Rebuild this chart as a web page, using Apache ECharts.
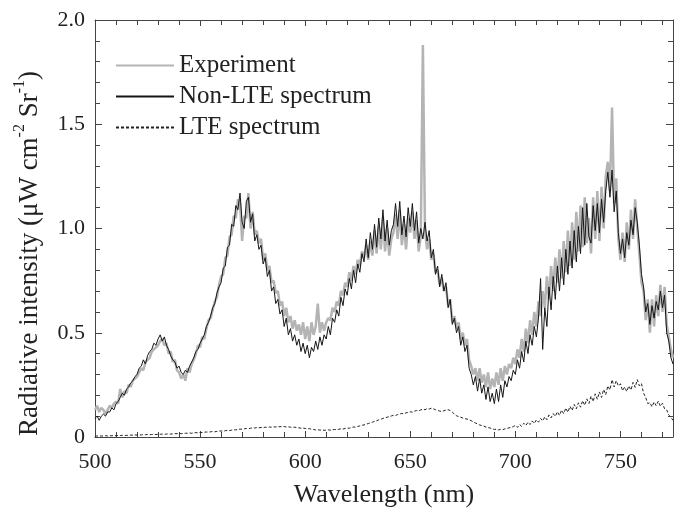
<!DOCTYPE html>
<html>
<head>
<meta charset="utf-8">
<script src="https://cdn.jsdelivr.net/npm/echarts@6/dist/echarts.min.js"></script>
<style>html,body{margin:0;padding:0;background:#fff}#c{width:674px;height:508px}</style>
</head>
<body>
<div id="c"></div>
<script>
const startNm = 500;
const endNm = 775;
const xTickLabels = ['500', '550', '600', '650', '700', '750'];
const yTickLabels = ['0', '0.5', '1.0', '1.5', '2.0'];
const seriesNames = ['Experiment', 'Non-LTE spectrum', 'LTE spectrum'];

const experiment = [
0.13,0.15,0.12,0.14,0.13,0.11,0.13,0.15,0.14,0.16,
0.17,0.16,0.23,0.19,0.22,0.21,0.25,0.24,0.27,0.28,
0.29,0.31,0.33,0.32,0.36,0.37,0.38,0.41,0.42,0.43,
0.44,0.46,0.47,0.44,0.45,0.40,0.41,0.36,0.37,0.32,
0.31,0.28,0.30,0.27,0.33,0.31,0.35,0.37,0.40,0.44,
0.43,0.48,0.47,0.52,0.56,0.57,0.61,0.65,0.67,0.73,
0.77,0.78,0.86,0.87,0.96,0.97,1.06,1.05,1.14,1.12,
0.94,1.06,1.05,1.17,1.00,1.08,0.97,0.99,0.93,0.95,
0.85,0.88,0.80,0.82,0.74,0.75,0.69,0.70,0.63,0.65,
0.58,0.62,0.55,0.58,0.52,0.56,0.51,0.54,0.49,0.55,
0.47,0.53,0.46,0.55,0.49,0.53,0.64,0.50,0.55,0.51,
0.55,0.57,0.56,0.62,0.60,0.65,0.63,0.70,0.68,0.74,
0.72,0.79,0.75,0.82,0.78,0.85,0.82,0.89,0.86,0.92,
0.85,0.94,0.87,0.99,0.88,1.01,0.90,1.05,0.89,1.00,
0.87,0.95,0.98,1.07,0.95,1.09,0.92,1.02,0.90,1.05,
0.98,1.08,0.95,1.04,0.89,0.96,1.88,0.99,0.90,0.95,
0.85,0.88,0.79,0.80,0.73,0.76,0.70,0.72,0.63,0.66,
0.55,0.58,0.52,0.55,0.47,0.50,0.44,0.47,0.37,0.34,
0.30,0.33,0.27,0.33,0.26,0.30,0.24,0.31,0.23,0.28,
0.24,0.31,0.25,0.33,0.27,0.34,0.30,0.35,0.33,0.38,
0.35,0.42,0.38,0.47,0.41,0.52,0.45,0.56,0.49,0.60,
0.53,0.65,0.58,0.70,0.62,0.77,0.66,0.82,0.70,0.86,
0.74,0.90,0.76,0.94,0.79,0.99,0.82,1.03,0.85,1.08,
0.89,1.11,0.91,1.15,0.93,1.05,0.88,1.15,0.95,1.18,
0.94,1.20,1.00,1.25,1.32,1.18,1.58,1.12,1.24,0.95,
0.85,0.98,0.84,1.03,0.90,1.09,0.95,1.14,1.00,0.88,
0.74,0.70,0.56,0.66,0.50,0.66,0.53,0.68,0.58,0.73,
0.60,0.72,0.54,0.48,0.42,0.38
];

const nonLTE = [
0.09,0.10,0.08,0.10,0.11,0.10,0.12,0.12,0.14,0.13,
0.16,0.17,0.19,0.21,0.20,0.23,0.24,0.26,0.27,0.29,
0.30,0.33,0.34,0.37,0.35,0.39,0.41,0.42,0.45,0.44,
0.47,0.49,0.46,0.48,0.44,0.42,0.39,0.37,0.36,0.33,
0.34,0.31,0.30,0.32,0.31,0.34,0.36,0.38,0.41,0.42,
0.45,0.47,0.49,0.53,0.55,0.58,0.62,0.64,0.69,0.72,
0.74,0.81,0.82,0.91,0.92,1.02,1.01,1.11,1.09,1.17,
1.03,1.00,1.13,1.15,1.03,1.07,0.94,0.97,0.90,0.92,
0.83,0.86,0.77,0.80,0.70,0.72,0.64,0.66,0.59,0.61,
0.53,0.57,0.49,0.52,0.46,0.49,0.44,0.47,0.41,0.45,
0.40,0.44,0.38,0.43,0.41,0.46,0.42,0.48,0.44,0.49,
0.47,0.53,0.49,0.57,0.55,0.61,0.58,0.67,0.63,0.71,
0.68,0.76,0.71,0.80,0.74,0.83,0.79,0.88,0.84,0.95,
0.86,0.98,0.90,1.02,0.91,1.05,0.95,1.09,0.94,1.04,
0.92,0.99,1.02,1.12,1.01,1.13,0.97,1.06,0.96,1.10,
1.01,1.12,0.99,1.08,0.93,1.00,0.95,1.03,0.94,0.99,
0.86,0.90,0.78,0.82,0.72,0.78,0.70,0.74,0.62,0.66,
0.54,0.57,0.50,0.53,0.44,0.48,0.41,0.44,0.33,0.30,
0.25,0.29,0.22,0.28,0.21,0.25,0.18,0.24,0.17,0.21,
0.16,0.23,0.17,0.25,0.19,0.27,0.24,0.29,0.27,0.32,
0.30,0.37,0.33,0.41,0.36,0.46,0.40,0.49,0.44,0.53,
0.48,0.57,0.76,0.42,0.62,0.53,0.72,0.61,0.77,0.66,
0.82,0.70,0.86,0.73,0.90,0.78,0.94,0.81,0.99,0.84,
1.01,0.88,1.10,0.92,1.12,0.96,0.93,1.11,0.99,1.12,
0.98,1.14,1.03,1.18,1.27,1.15,1.28,1.08,1.18,0.98,
0.88,0.95,0.86,0.98,0.92,1.04,0.97,1.10,1.03,0.92,
0.78,0.72,0.60,0.64,0.54,0.63,0.57,0.65,0.61,0.70,
0.62,0.68,0.50,0.46,0.38,0.35
];

const lte = [
0.004,0.005,0.004,0.005,0.005,0.006,0.005,0.006,0.006,0.007,
0.006,0.007,0.007,0.008,0.007,0.008,0.008,0.009,0.009,0.010,
0.009,0.010,0.010,0.011,0.011,0.012,0.011,0.012,0.013,0.012,
0.013,0.013,0.014,0.013,0.014,0.015,0.014,0.015,0.016,0.016,
0.017,0.016,0.017,0.018,0.018,0.019,0.018,0.020,0.021,0.020,
0.022,0.021,0.023,0.024,0.023,0.025,0.026,0.025,0.027,0.028,
0.029,0.028,0.030,0.032,0.031,0.033,0.035,0.034,0.036,0.038,
0.037,0.039,0.041,0.040,0.042,0.044,0.043,0.045,0.044,0.046,
0.045,0.047,0.046,0.048,0.047,0.049,0.048,0.050,0.049,0.051,
0.050,0.048,0.049,0.047,0.046,0.047,0.045,0.044,0.042,0.043,
0.041,0.039,0.040,0.037,0.036,0.034,0.035,0.033,0.034,0.032,
0.033,0.034,0.033,0.035,0.036,0.035,0.037,0.039,0.038,0.041,
0.043,0.042,0.046,0.048,0.047,0.051,0.053,0.056,0.058,0.062,
0.064,0.068,0.071,0.075,0.078,0.082,0.085,0.089,0.092,0.095,
0.098,0.101,0.104,0.103,0.108,0.110,0.113,0.111,0.116,0.118,
0.121,0.119,0.124,0.127,0.125,0.130,0.133,0.131,0.136,0.134,
0.138,0.135,0.131,0.128,0.124,0.122,0.126,0.129,0.131,0.127,
0.119,0.110,0.102,0.098,0.095,0.091,0.088,0.086,0.082,0.078,
0.072,0.067,0.063,0.058,0.055,0.052,0.048,0.045,0.043,0.040,
0.036,0.038,0.034,0.037,0.035,0.039,0.041,0.044,0.046,0.050,
0.055,0.046,0.060,0.051,0.066,0.055,0.071,0.060,0.077,0.065,
0.082,0.071,0.089,0.077,0.097,0.083,0.106,0.092,0.112,0.099,
0.121,0.104,0.129,0.112,0.139,0.119,0.147,0.127,0.156,0.135,
0.164,0.143,0.174,0.152,0.183,0.161,0.196,0.170,0.207,0.181,
0.216,0.190,0.228,0.203,0.245,0.226,0.275,0.240,0.270,0.245,
0.255,0.222,0.240,0.218,0.245,0.225,0.262,0.238,0.275,0.245,
0.256,0.210,0.190,0.160,0.165,0.145,0.168,0.150,0.172,0.148,
0.162,0.135,0.130,0.105,0.095,0.080
];

const wavelengths = [];
for (let w = startNm; w <= endNm; w++) wavelengths.push(w);
const pairs = (arr) => arr.map((v, i) => [wavelengths[i], v]);

const FONT = '"Liberation Serif", "Times New Roman", serif';
const AX = '#444';
const TXT = '#222';

const chart = echarts.init(document.getElementById('c'), null, { renderer: 'canvas' });

const baseX = {
  type: 'value', min: startNm, max: endNm, interval: 50,
  axisLine: { show: true, onZero: false, lineStyle: { color: AX, width: 1 } },
  axisTick: { show: true, inside: true, length: 6, lineStyle: { color: AX } },
  minorTick: { show: true, splitNumber: 5, length: 5, lineStyle: { color: AX } },
  splitLine: { show: false }
};
const baseY = {
  type: 'value', min: 0, max: 2, interval: 0.5,
  axisLine: { show: true, onZero: false, lineStyle: { color: AX, width: 1 } },
  axisTick: { show: true, inside: true, length: 7, lineStyle: { color: AX } },
  minorTick: { show: true, splitNumber: 5, length: 5, lineStyle: { color: AX } },
  splitLine: { show: false }
};

chart.setOption({
  animation: false,
  backgroundColor: '#fff',
  grid: { left: 95, right: 1, top: 20, bottom: 71, containLabel: false, outerBoundsMode: 'none' },
  legend: {
    orient: 'vertical', left: 110, top: 48,
    itemWidth: 58, itemHeight: 14, itemGap: 6,
    data: seriesNames,
    itemStyle: { opacity: 0, borderWidth: 0 },
    textStyle: { fontFamily: FONT, fontSize: 25, color: TXT, lineHeight: 25 }
  },
  xAxis: [
    Object.assign({}, baseX, {
      position: 'bottom',
      axisLabel: {
        show: true, margin: 14, fontFamily: FONT, fontSize: 22, color: TXT,
        formatter: (v) => { const i = Math.round((v - startNm) / 50); return xTickLabels[i] || ''; }
      },
      name: 'Wavelength (nm)', nameLocation: 'middle', nameGap: 45,
      nameTextStyle: { fontFamily: FONT, fontSize: 26, color: TXT }
    }),
    Object.assign({}, baseX, { position: 'top', axisLabel: { show: false } })
  ],
  yAxis: [
    Object.assign({}, baseY, {
      position: 'left',
      axisLabel: {
        show: true, margin: 10, fontFamily: FONT, fontSize: 22, color: TXT,
        formatter: (v) => { const i = Math.round(v / 0.5); return yTickLabels[i] || ''; }
      },
      name: '{n|Radiative intensity (μW cm}{s|-2}{n| Sr}{s|-1}{n|)}',
      nameLocation: 'middle', nameGap: 52,
      nameTextStyle: {
        fontFamily: FONT, fontSize: 27, color: TXT, padding: [0, 50, 0, 0],
        rich: {
          n: { fontFamily: FONT, fontSize: 27, color: TXT, lineHeight: 31, verticalAlign: 'bottom' },
          s: { fontFamily: FONT, fontSize: 16, color: TXT, lineHeight: 16, verticalAlign: 'top' }
        }
      }
    }),
    Object.assign({}, baseY, { position: 'right', axisLabel: { show: false } })
  ],
  series: [
    {
      name: seriesNames[0], type: 'line', data: pairs(experiment),
      showSymbol: false, symbol: 'none', clip: true,
      lineStyle: { color: '#b4b4b4', width: 2.5 }, itemStyle: { color: '#b4b4b4' }, z: 1
    },
    {
      name: seriesNames[1], type: 'line', data: pairs(nonLTE),
      showSymbol: false, symbol: 'none', clip: true,
      lineStyle: { color: '#151515', width: 1 }, itemStyle: { color: '#151515' }, z: 2
    },
    {
      name: seriesNames[2], type: 'line', data: pairs(lte),
      showSymbol: false, symbol: 'none', clip: true,
      lineStyle: { color: '#222', width: 1, type: [3, 2] }, itemStyle: { color: '#222' }, z: 3
    }
  ]
});
</script>
</body>
</html>
